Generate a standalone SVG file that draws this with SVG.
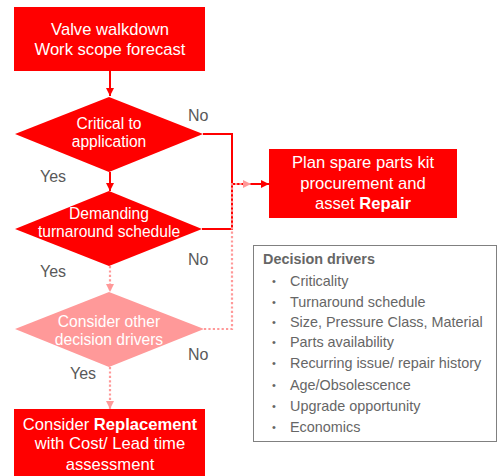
<svg xmlns="http://www.w3.org/2000/svg" width="497" height="476" viewBox="0 0 497 476">
<defs>
<marker id="ar" markerUnits="userSpaceOnUse" markerWidth="9" markerHeight="9" refX="8" refY="4.5" orient="auto"><path d="M0,0.5 L8,4.5 L0,8.5 z" fill="#FF0000"/></marker>
<marker id="ap" markerUnits="userSpaceOnUse" markerWidth="9" markerHeight="9" refX="8" refY="4.5" orient="auto"><path d="M0,0.5 L8,4.5 L0,8.5 z" fill="#FF9999"/></marker>
</defs>
<style>
text{font-family:"Liberation Sans",Arial,sans-serif}
.w{fill:#FFFFFF;text-anchor:middle}
.box{font-size:16.6px}
.dia{font-size:15.6px}
.lbl{fill:#595959;font-size:16px}
.lst{fill:#666666;font-size:14.4px}
.bul{fill:#666666;font-size:11px}
.red{stroke:#FF0000;stroke-width:2;fill:none}
.pnk{stroke:#FF9999;stroke-width:2.2;fill:none;stroke-dasharray:2.2 2.2}
</style>
<g id="connectors">
<line class="red" x1="110" y1="71" x2="110" y2="96" marker-end="url(#ar)"/>
<line class="red" x1="110" y1="172" x2="110" y2="191" marker-end="url(#ar)"/>
<path class="red" d="M203,134 H232 V229 H202"/>
<line class="red" x1="232" y1="184" x2="269" y2="184" marker-end="url(#ar)"/>
<line class="pnk" x1="110" y1="266" x2="110" y2="292" marker-end="url(#ap)"/>
<line class="pnk" x1="110" y1="367" x2="110" y2="409" marker-end="url(#ap)"/>
<path class="pnk" d="M204,329 H232 V184 H251" marker-end="url(#ap)"/>
</g>
<g id="start">
<rect x="14" y="7" width="191" height="64" fill="#FF0000"/>
<text class="w box" x="110" y="35">Valve walkdown</text>
<text class="w box" x="110" y="55">Work scope forecast</text>
</g>
<g id="critical">
<polygon points="109,97 203,134 109,172 15,134" fill="#FF0000"/>
<text class="w dia" x="109" y="129">Critical to</text>
<text class="w dia" x="109" y="147">application</text>
</g>
<g id="demanding">
<polygon points="109,191 202,229 109,266 15,229" fill="#FF0000"/>
<text class="w dia" x="109" y="219">Demanding</text>
<text class="w dia" x="109" y="237">turnaround schedule</text>
</g>
<g id="consider">
<polygon points="109,292 204,329 109,367 15,329" fill="#FF9999"/>
<text class="w dia" x="109" y="327">Consider other</text>
<text class="w dia" x="109" y="345">decision drivers</text>
</g>
<g id="repair">
<rect x="269" y="149" width="188" height="69" fill="#FF0000"/>
<text class="w box" x="363" y="168">Plan spare parts kit</text>
<text class="w box" x="363" y="189">procurement and</text>
<text class="w box" x="363" y="209">asset <tspan font-weight="bold">Repair</tspan></text>
</g>
<g id="replacement">
<rect x="14" y="409" width="191" height="67" fill="#FF0000"/>
<text class="w box" x="110" y="430">Consider <tspan font-weight="bold">Replacement</tspan></text>
<text class="w box" x="110" y="449">with Cost/ Lead time</text>
<text class="w box" x="110" y="470">assessment</text>
</g>
<g id="labels">
<text class="lbl" x="188" y="121">No</text>
<text class="lbl" x="40" y="182">Yes</text>
<text class="lbl" x="188" y="265">No</text>
<text class="lbl" x="40" y="277">Yes</text>
<text class="lbl" x="188" y="360">No</text>
<text class="lbl" x="70" y="379">Yes</text>
</g>
<g id="drivers">
<rect x="253.5" y="245.5" width="243" height="196" fill="#FFFFFF" stroke="#808080" stroke-width="1"/>
<text class="lst" x="263" y="264" font-weight="bold" fill="#595959">Decision drivers</text>
<text class="bul" x="272" y="285">•</text><text class="lst" x="290" y="286">Criticality</text>
<text class="bul" x="272" y="306">•</text><text class="lst" x="290" y="307">Turnaround schedule</text>
<text class="bul" x="272" y="326">•</text><text class="lst" x="290" y="327">Size, Pressure Class, Material</text>
<text class="bul" x="272" y="346">•</text><text class="lst" x="290" y="347">Parts availability</text>
<text class="bul" x="272" y="367">•</text><text class="lst" x="290" y="368">Recurring issue/ repair history</text>
<text class="bul" x="272" y="389">•</text><text class="lst" x="290" y="390">Age/Obsolescence</text>
<text class="bul" x="272" y="410">•</text><text class="lst" x="290" y="411">Upgrade opportunity</text>
<text class="bul" x="272" y="431">•</text><text class="lst" x="290" y="432">Economics</text>
</g>
</svg>
